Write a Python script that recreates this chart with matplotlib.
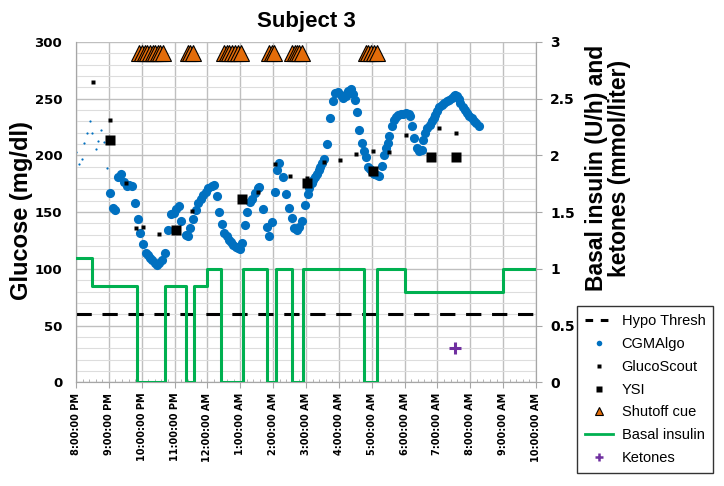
import matplotlib
matplotlib.use("Agg")
import matplotlib.pyplot as plt
from matplotlib.lines import Line2D
from matplotlib.ticker import MultipleLocator

# ---------------- data (time = hours after 8:00 PM) ----------------
tick_labels = ["8:00:00 PM", "9:00:00 PM", "10:00:00 PM", "11:00:00 PM",
               "12:00:00 AM", "1:00:00 AM", "2:00:00 AM", "3:00:00 AM",
               "4:00:00 AM", "5:00:00 AM", "6:00:00 AM", "7:00:00 AM",
               "8:00:00 AM", "9:00:00 AM", "10:00:00 AM"]

cgm_warmup_t = [0.00, 0.08, 0.17, 0.25, 0.33, 0.42, 0.50, 0.60, 0.68, 0.76, 0.84, 0.93]
cgm_warmup_g = [203, 192, 197, 211, 220, 230, 220, 206, 213, 222, 212, 189]

cgm_t = [1.04, 1.12, 1.20, 1.29, 1.37, 1.45, 1.54, 1.62, 1.71, 1.80, 1.88, 1.96,
         2.04, 2.12, 2.19, 2.24, 2.32, 2.39, 2.46, 2.54, 2.61, 2.70, 2.81, 2.88,
         2.98, 3.04, 3.13, 3.21, 3.34, 3.42, 3.47, 3.55, 3.65, 3.72, 3.79, 3.87,
         3.95, 4.02, 4.13, 4.20, 4.28, 4.36, 4.45, 4.51, 4.59, 4.66, 4.72, 4.79,
         4.87, 4.94, 4.99, 5.06, 5.14, 5.20, 5.30, 5.37, 5.45, 5.53, 5.58, 5.70,
         5.80, 5.88, 5.96, 6.07, 6.13, 6.17, 6.29, 6.39, 6.48, 6.56, 6.64, 6.73,
         6.80, 6.89, 6.97, 7.05, 7.10, 7.17, 7.22, 7.28, 7.33, 7.38, 7.43, 7.48,
         7.56, 7.65, 7.73, 7.81, 7.88, 7.98, 8.07, 8.14, 8.21, 8.29, 8.36, 8.42,
         8.49, 8.56, 8.62, 8.70, 8.77, 8.82, 8.88, 8.95, 9.02, 9.08, 9.15, 9.23,
         9.30, 9.37, 9.43, 9.48, 9.54, 9.61, 9.68, 9.74, 9.81, 9.89, 9.96, 10.05,
         10.12, 10.17, 10.22, 10.30, 10.37, 10.45, 10.52, 10.57, 10.62, 10.69, 10.76, 10.83,
         10.88, 10.93, 10.98, 11.05, 11.13, 11.20, 11.28, 11.36, 11.43, 11.49, 11.54, 11.59,
         11.64, 11.70, 11.77, 11.84, 11.91, 11.97, 12.04, 12.11, 12.18, 12.25]
cgm_g = [167, 154, 152, 181, 184, 177, 173, 174, 173, 158, 144, 132,
         122, 114, 112, 110, 108, 105, 103.5, 105, 108, 114, 134, 148,
         149, 152.6, 155.6, 142.6, 130, 129, 136, 144, 152, 158, 161.5, 165,
         168, 171, 173, 174, 164, 150, 139.4, 132, 129, 125.6, 124, 121,
         119.6, 118, 117.6, 122.6, 139, 150.5, 159, 162, 167, 171, 172, 152.6,
         137, 129, 141, 168, 187, 193, 181, 166, 153.5, 144.7, 136, 134,
         137, 142, 156, 166, 171, 175.6, 178.5, 181, 184, 187, 190, 193,
         197, 210, 233, 247.6, 255, 255.5, 253.5, 250.6, 252.6, 256.4, 258.5, 254.4,
         249, 238, 222.6, 211, 203.5, 198.5, 190, 188, 185, 184, 183, 182,
         191, 200.6, 206.5, 211, 217, 226, 231, 234, 236, 236.5, 236.5, 237,
         236.5, 235, 226, 215, 206.5, 204, 205, 214, 220, 224, 227, 230,
         233, 236, 239, 242.6, 244.7, 246, 247.6, 249, 250.6, 252, 252.9, 252,
         249.7, 246, 243, 240, 237, 235, 233, 230.6, 228.5, 226]

glucoscout_t = [0.53, 1.03, 1.53, 1.83, 2.04, 2.54, 3.53, 5.55, 6.05, 6.51,
                7.04, 7.54, 8.03, 8.53, 9.04, 9.54, 10.04, 11.06, 11.55]
glucoscout_g = [265, 231, 176, 136, 137, 131, 151, 168, 192, 182,
                180, 194, 196, 201, 204, 203, 218, 224, 220]

ysi_t = [1.03, 3.04, 5.04, 7.04, 9.05, 10.79, 11.56]
ysi_g = [214, 134, 162, 176, 186, 199, 199]

shutoff_t = [1.93, 2.01, 2.09, 2.17, 2.25, 2.33, 2.41, 2.49, 2.57, 2.66,
             3.40, 3.48, 3.55,
             4.50, 4.59, 4.67, 4.76, 4.85, 4.93, 5.02,
             5.87, 5.95, 6.03,
             6.57, 6.65, 6.73, 6.80, 6.87,
             8.82, 8.90, 8.98, 9.07, 9.15]
shutoff_level = 290

hypo_t = [0, 14]
hypo_g = [60, 60]

basal_t = [0.0, 0.48, 1.85, 2.72, 3.35, 3.59, 4.00, 4.40, 5.09, 5.82, 6.09,
           6.58, 6.90, 8.75, 9.17, 10.00, 13.00, 14.00]
basal_u = [1.10, 0.85, 0.0, 0.85, 0.0, 0.85, 1.0, 0.0, 1.0, 0.0, 1.0,
           0.0, 1.0, 0.0, 1.0, 0.80, 1.0, 1.0]

ketone_t = [11.54]
ketone_v = [0.3]

# ---------------- colours ----------------
BLUE = "#0070C0"
GREEN = "#00B050"
ORANGE = "#E36C09"
PURPLE = "#7030A0"
GRID = "#BFBFBF"
MINOR = "#DDDDDD"
LABEL_FONT = "Liberation Sans"

fig = plt.figure(figsize=(7.24, 4.86), dpi=100)
ax = fig.add_axes([0.1050, 0.2134, 0.6354, 0.7002])
ax2 = ax.twinx()

ax.set_xlim(0, 14)
ax.set_ylim(0, 300)
ax2.set_ylim(0, 3)

ax.yaxis.set_major_locator(MultipleLocator(50))
ax.yaxis.set_minor_locator(MultipleLocator(10))
ax.xaxis.set_major_locator(MultipleLocator(1))
ax.xaxis.set_minor_locator(MultipleLocator(0.2))
ax2.yaxis.set_major_locator(MultipleLocator(0.5))

ax.grid(which="major", color=GRID, lw=1.0)
ax.grid(which="minor", axis="y", color=MINOR, lw=0.8)
ax.set_axisbelow(True)

for a in (ax, ax2):
    for s in a.spines.values():
        s.set_color("#A6A6A6")
    a.spines["top"].set_visible(False)

ax.tick_params(axis="x", which="major", length=4, color="#A6A6A6")
ax.tick_params(axis="x", which="minor", length=2.5, direction="in", color="#A6A6A6")
ax.tick_params(axis="y", which="both", length=0, pad=10)
ax2.tick_params(axis="y", length=4, color="#A6A6A6", pad=6)

ax.set_xticks(range(len(tick_labels)))
ax.set_xticklabels(tick_labels, rotation=90, fontsize=7, fontweight="bold")
ax.set_yticks(range(0, 301, 50))
ax.set_yticklabels([str(v) for v in range(0, 301, 50)], fontsize=9.5, fontweight="bold")
ax2.set_yticks([0, 0.5, 1, 1.5, 2, 2.5, 3])
ax2.set_yticklabels(["0", "0.5", "1", "1.5", "2", "2.5", "3"], fontsize=10, fontweight="bold")

# ---------------- series ----------------
ax.plot(hypo_t, hypo_g, color="black", lw=2.2, dashes=(5, 3.5), zorder=3)
ax.plot(cgm_warmup_t, cgm_warmup_g, "o", color=BLUE, ms=1.6, mec="none", zorder=4)
ax.plot(cgm_t, cgm_g, "o", color=BLUE, ms=6.6, mec="none", zorder=4)
ax.plot(glucoscout_t, glucoscout_g, "s", color="black", ms=3.0, mec="none", zorder=5)
ax.plot(ysi_t, ysi_g, "s", color="black", ms=6.8, mec="none", zorder=5)
ax.plot(shutoff_t, [shutoff_level] * len(shutoff_t), "^", color=ORANGE, ms=11,
        mec="black", mew=0.8, zorder=5)

ax2.step(basal_t, basal_u, where="post", color=GREEN, lw=2.2, zorder=3)
ax2.plot(ketone_t, ketone_v, "+", color=PURPLE, ms=9, mew=2.2, zorder=4)

# ---------------- labels ----------------
fig.text(306 / 724, 1 - 21 / 486, "Subject 3", fontsize=16, fontweight="bold",
         family=LABEL_FONT, ha="center", va="center")
fig.text(22 / 724, 1 - 211 / 486, "Glucose (mg/dl)", fontsize=17, fontweight="bold",
         family=LABEL_FONT, ha="center", va="center", rotation=90)
fig.text(608 / 724, 1 - 168 / 486, "Basal insulin (U/h) and\nketones (mmol/liter)",
         fontsize=16.5, fontweight="bold", family=LABEL_FONT, ha="center", va="center",
         rotation=90, multialignment="center", linespacing=1.05)

handles = [
    Line2D([], [], color="black", lw=2.2, dashes=(2.5, 2.5)),
    Line2D([], [], ls="none", marker="o", color=BLUE, ms=4, mec="none"),
    Line2D([], [], ls="none", marker="s", color="black", ms=3, mec="none"),
    Line2D([], [], ls="none", marker="s", color="black", ms=5, mec="none"),
    Line2D([], [], ls="none", marker="^", color=ORANGE, ms=6, mec="black", mew=0.8),
    Line2D([], [], color=GREEN, lw=2.0),
    Line2D([], [], ls="none", marker="+", color=PURPLE, ms=6, mew=1.8),
]
labels = ["Hypo Thresh", "CGMAlgo", "GlucoScout", "YSI", "Shutoff cue",
          "Basal insulin", "Ketones"]
leg = fig.legend(handles, labels, loc="lower left", bbox_to_anchor=(0.797, 0.027),
                 bbox_transform=fig.transFigure, frameon=True, fancybox=False,
                 edgecolor="black", prop={"family": LABEL_FONT, "size": 10.5},
                 handlelength=1.9, labelspacing=0.6, borderpad=0.55, handletextpad=0.6,
                 borderaxespad=0)
leg.get_frame().set_linewidth(1.0)

fig.savefig("out.png", dpi=100)
